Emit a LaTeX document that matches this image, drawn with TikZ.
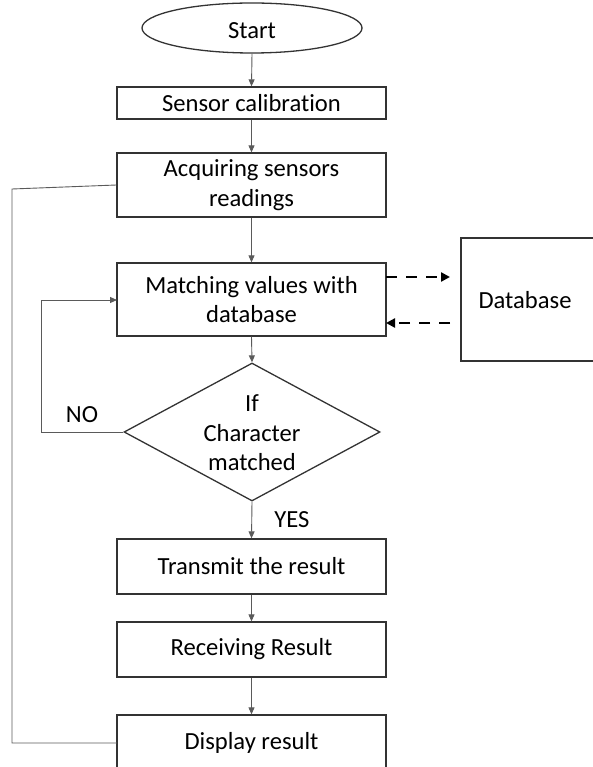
\documentclass[tikz,border=0pt]{standalone}
\usepackage{fontspec}
\setmainfont{Carlito}[Ligatures=NoCommon]
\usetikzlibrary{shapes.geometric,arrows.meta}

\definecolor{boxline}{HTML}{333333}
\definecolor{linkline}{HTML}{5A5A5A}

\tikzset{
  basefont/.style={font=\fontsize{24.6}{29.5}\selectfont},
  stepbox/.style={draw=boxline, line width=1.3pt, rectangle, minimum width=269pt,
    inner sep=0pt, align=center, basefont},
  startshape/.style={draw=boxline, line width=1.3pt, ellipse, minimum width=220pt,
    minimum height=50pt, inner sep=0pt, basefont},
  decshape/.style={draw=boxline, line width=1.3pt, diamond, minimum width=256pt,
    minimum height=138pt, inner sep=0pt},
  txt/.style={inner sep=0pt, align=center, basefont},
  link/.style={draw=linkline, line width=0.9pt},
  flow/.style={link, -{Triangle[length=7pt,width=6pt]}},
  dblink/.style={draw=black, line width=2.6pt, dash pattern=on 11pt off 9pt,
    -{Triangle[length=9pt,width=9pt]}}
}

\begin{document}
\begin{tikzpicture}[x=1pt,y=-1pt]
\useasboundingbox (0,0) rectangle (592,767);

% flow steps
\node[startshape] (start) at (252,28) {};
\node[txt] (starttext) at (252,31) {Start};
\node[stepbox, minimum height=32pt] (calib) at (251.5,103) {Sensor calibration};
\node[stepbox, minimum height=64pt] (acq) at (251.5,185) {Acquiring sensors\\readings};
\node[stepbox, minimum height=73pt] (match) at (251.5,299.5) {Matching values with\\database};
% the store box runs off the right border
\node[stepbox, minimum width=140pt, minimum height=123pt] (db) at (531,299.5) {};
\node[txt] (dbtext) at (525,300) {Database};
\node[decshape] (dec) at (252,432) {};
\node[txt] (dectext) at (252,433) {If\\Character\\matched};
\node[stepbox, minimum height=55pt] (transmit) at (251.5,566.5) {Transmit the result};
\node[stepbox, minimum height=55pt] (receive) at (251.5,649.5) {Receiving Result};
\node[stepbox, minimum height=55pt] (display) at (251.5,742.5) {Display result};

% branch labels
\node[txt] (yes) at (292,520) {YES};
\node[txt] (no) at (82,415) {NO};

% helper points for the routed lines
\coordinate (dbin) at (450,277);
\coordinate (dbout) at (450,323);
\coordinate (matchtop) at (386,277);
\coordinate (matchbot) at (386,323);
\coordinate (noturn1) at (41,432);
\coordinate (noturn2) at (41,300);
\coordinate (matchin) at (117,300);
\coordinate (sideA) at (12,189);
\coordinate (sideB) at (12,743);
\coordinate (dispin) at (117,743);

% main flow
\draw[flow] (start.south) -- (calib.north);
\draw[flow] (calib.south) -- (acq.north);
\draw[flow] (acq.south) -- (match.north);
\draw[flow] (match.south) -- (dec.north);
\draw[flow] (dec.south) -- (transmit.north);
\draw[flow] (transmit.south) -- (receive.north);
\draw[flow] (receive.south) -- (display.north);

% retry loop
\draw[flow] (dec.west) -- (noturn1) -- (noturn2) -- (matchin);

% side line from acquisition to display
\draw[link] (acq.west) -- (sideA) -- (sideB) -- (dispin);

% database exchange
\draw[dblink] (matchtop) -- (dbin);
\draw[dblink] (dbout) -- (matchbot);
\end{tikzpicture}
\end{document}
